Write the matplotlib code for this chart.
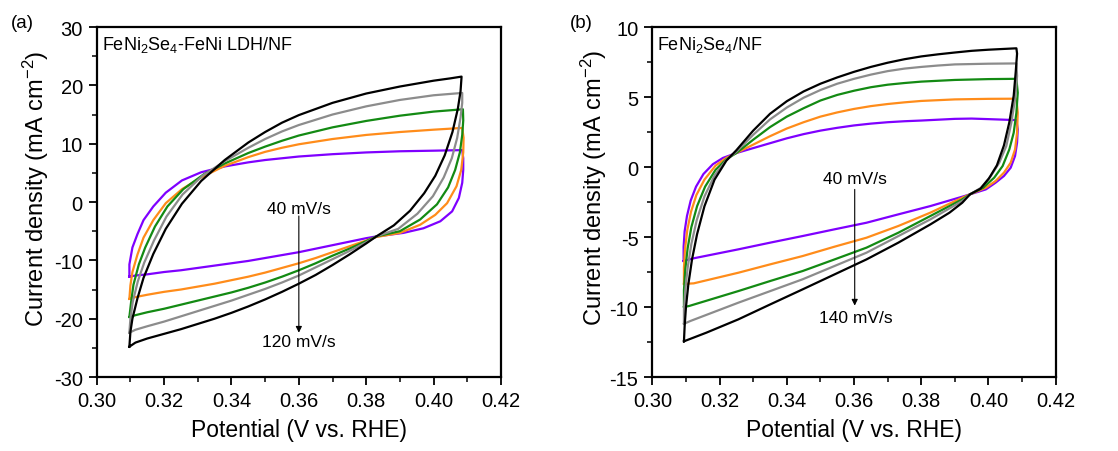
import matplotlib
matplotlib.use("Agg")
import matplotlib.pyplot as plt
from matplotlib.ticker import MultipleLocator, FormatStrFormatter

plt.rcParams['font.family'] = ['Liberation Sans', 'DejaVu Sans']
plt.rcParams['mathtext.fontset'] = 'custom'
plt.rcParams['mathtext.rm'] = 'Liberation Sans'
plt.rcParams['mathtext.it'] = 'Liberation Sans'
plt.rcParams['mathtext.default'] = 'regular'
plt.rcParams['axes.unicode_minus'] = False

# ---------------- Panel (a): FeNi2Se4-FeNi LDH/NF ----------------
a_40_x = [0.3097, 0.3097, 0.3106, 0.3121, 0.3139, 0.3168, 0.3205, 0.3253, 0.331, 0.338, 0.345, 0.350, 0.360, 0.370, 0.380, 0.390, 0.400, 0.4085,
          0.4088, 0.4088, 0.4085, 0.4075, 0.4055, 0.4020, 0.3970, 0.3910, 0.3830,
          0.380, 0.375, 0.370, 0.365, 0.360, 0.355, 0.350, 0.345, 0.340, 0.335, 0.330, 0.325, 0.320, 0.315, 0.3115, 0.3097]
a_40_y = [-12.8, -10.7, -7.8, -5.5, -3.1, -0.76, 1.6, 3.7, 5.1, 6.1, 6.8, 7.2, 7.8, 8.2, 8.5, 8.7, 8.8, 8.9,
          7.5, 5.5, 3.3, 0.7, -1.6, -3.3, -4.5, -5.3, -5.9,
          -6.2, -6.8, -7.4, -8.0, -8.6, -9.1, -9.6, -10.1, -10.5, -10.9, -11.3, -11.7, -12.0, -12.4, -12.6, -12.8]

a_60_x = [0.3097, 0.3100, 0.3106, 0.3121, 0.3139, 0.3168, 0.3205, 0.3253, 0.331, 0.338, 0.345, 0.350, 0.355, 0.360, 0.370, 0.380, 0.390, 0.400, 0.4085,
          0.4089, 0.4088, 0.4082, 0.4068, 0.4040, 0.4005, 0.3960, 0.3900, 0.3830,
          0.380, 0.375, 0.370, 0.365, 0.360, 0.355, 0.350, 0.345, 0.340, 0.335, 0.330, 0.325, 0.320, 0.315, 0.3115, 0.3097]
a_60_y = [-16.6, -14.3, -12.0, -9.0, -6.1, -3.1, -0.2, 2.2, 4.2, 6.2, 7.7, 8.6, 9.3, 9.9, 10.8, 11.5, 12.0, 12.4, 12.7,
          11.0, 8.5, 5.5, 2.7, -0.2, -2.2, -3.9, -5.3, -6.0,
          -6.6, -7.6, -8.6, -9.6, -10.5, -11.3, -12.1, -12.8, -13.4, -14.0, -14.5, -15.0, -15.4, -15.9, -16.3, -16.6]

a_80_x = [0.3097, 0.3102, 0.3109, 0.3125, 0.3144, 0.3173, 0.321, 0.3257, 0.3319, 0.338, 0.345, 0.350, 0.355, 0.360, 0.370, 0.380, 0.390, 0.400, 0.4087,
          0.4088, 0.4085, 0.4078, 0.4064, 0.4043, 0.4010, 0.3960, 0.3900, 0.3830,
          0.380, 0.375, 0.370, 0.365, 0.360, 0.355, 0.350, 0.345, 0.340, 0.335, 0.330, 0.325, 0.320, 0.315, 0.3115, 0.3097]
a_80_y = [-19.7, -17.2, -14.2, -10.7, -7.8, -4.2, -0.75, 2.2, 4.8, 6.6, 8.4, 9.5, 10.5, 11.4, 12.8, 13.9, 14.8, 15.5, 15.9,
          14.0, 11.5, 8.5, 5.5, 2.5, -0.4, -3.0, -5.0, -5.9,
          -6.7, -8.0, -9.2, -10.5, -11.7, -12.8, -13.8, -14.7, -15.5, -16.2, -16.9, -17.6, -18.3, -18.9, -19.4, -19.7]

a_100_x = [0.3097, 0.3100, 0.3107, 0.3122, 0.3141, 0.317, 0.3207, 0.3255, 0.3314, 0.338, 0.345, 0.350, 0.355, 0.360, 0.370, 0.380, 0.390, 0.400, 0.4085,
           0.4085, 0.4080, 0.4070, 0.4054, 0.4030, 0.3998, 0.3952, 0.3895, 0.3830,
           0.380, 0.375, 0.370, 0.365, 0.360, 0.355, 0.350, 0.345, 0.340, 0.335, 0.330, 0.325, 0.320, 0.315, 0.3115, 0.3097]
a_100_y = [-22.4, -20.0, -17.1, -13.6, -10.4, -6.6, -2.5, 1.3, 4.5, 7.0, 9.3, 10.8, 12.1, 13.2, 15.0, 16.4, 17.5, 18.3, 18.7,
           17.0, 14.5, 11.0, 7.5, 4.2, 1.0, -2.0, -4.6, -5.9,
           -6.9, -8.4, -9.8, -11.2, -12.6, -13.8, -14.9, -15.9, -16.9, -17.8, -18.7, -19.6, -20.5, -21.3, -21.9, -22.4]

a_120_x = [0.3097, 0.3100, 0.3106, 0.3121, 0.3139, 0.3168, 0.3205, 0.3253, 0.331, 0.338, 0.345, 0.350, 0.355, 0.360, 0.370, 0.380, 0.390, 0.400, 0.405, 0.4083,
           0.4080, 0.4072, 0.4056, 0.4033, 0.4005, 0.3972, 0.3930, 0.3882, 0.3830,
           0.380, 0.375, 0.370, 0.365, 0.360, 0.355, 0.350, 0.345, 0.340, 0.335, 0.330, 0.325, 0.320, 0.315, 0.3115, 0.3097]
a_120_y = [-24.8, -22.3, -20.0, -16.5, -13.0, -8.9, -4.6, -0.3, 3.6, 7.2, 10.2, 12.0, 13.6, 14.9, 17.0, 18.6, 19.8, 20.8, 21.2, 21.5,
           19.0, 16.0, 12.0, 8.0, 4.5, 1.5, -1.5, -4.0, -5.9,
           -7.1, -9.0, -10.8, -12.5, -14.0, -15.4, -16.7, -17.9, -19.0, -20.0, -20.9, -21.8, -22.6, -23.4, -24.1, -24.8]

# ---------------- Panel (b): FeNi2Se4/NF ----------------
b_40_x = [0.3093, 0.3093, 0.3096, 0.3103, 0.3114, 0.3130, 0.3152, 0.3180, 0.321, 0.325, 0.330, 0.335, 0.340, 0.345, 0.350, 0.355, 0.360, 0.365, 0.370, 0.375, 0.380, 0.385, 0.390, 0.395, 0.400, 0.4083,
          0.4087, 0.4085, 0.4079, 0.4066, 0.4046, 0.4021, 0.3992, 0.3945,
          0.3922, 0.3827, 0.3732, 0.3637, 0.3542, 0.3447, 0.3351, 0.3256, 0.3123, 0.3093]
b_40_y = [-6.71, -5.7, -4.6, -3.5, -2.4, -1.4, -0.5, 0.2, 0.65, 1.0, 1.35, 1.7, 2.05, 2.35, 2.6, 2.8, 2.97, 3.1, 3.2, 3.27, 3.32, 3.38, 3.44, 3.46, 3.42, 3.35,
          2.69, 1.74, 0.79, -0.05, -0.64, -1.12, -1.6, -1.95,
          -2.12, -2.79, -3.38, -3.98, -4.45, -4.93, -5.4, -5.88, -6.52, -6.71]

b_65_x = [0.3094, 0.3094, 0.3097, 0.3104, 0.3115, 0.3131, 0.3155, 0.3188, 0.322, 0.325, 0.330, 0.335, 0.340, 0.345, 0.350, 0.355, 0.360, 0.365, 0.370, 0.375, 0.380, 0.390, 0.400, 0.4083,
          0.4087, 0.4085, 0.4079, 0.4066, 0.4046, 0.4021, 0.3992, 0.3945,
          0.3922, 0.3827, 0.3732, 0.3637, 0.3542, 0.3447, 0.3351, 0.3256, 0.3123, 0.3094]
b_65_y = [-8.35, -7.2, -5.9, -4.5, -3.2, -2.0, -0.9, 0.1, 0.65, 1.0, 1.6, 2.2, 2.75, 3.2, 3.6, 3.9, 4.15, 4.35, 4.5, 4.62, 4.72, 4.83, 4.87, 4.88,
          3.88, 2.45, 1.26, 0.31, -0.4, -1.0, -1.48, -1.95,
          -2.19, -3.26, -4.21, -5.05, -5.69, -6.36, -6.95, -7.55, -8.31, -8.35]

b_90_x = [0.3094, 0.3094, 0.3098, 0.3105, 0.3116, 0.3133, 0.3157, 0.3188, 0.322, 0.325, 0.330, 0.335, 0.340, 0.345, 0.350, 0.355, 0.360, 0.365, 0.370, 0.375, 0.380, 0.390, 0.400, 0.4083,
          0.4087, 0.4083, 0.4075, 0.4062, 0.4042, 0.4017, 0.3984, 0.3945,
          0.3922, 0.3827, 0.3732, 0.3637, 0.3542, 0.3447, 0.3351, 0.3256, 0.3109, 0.3094]
b_90_y = [-10.0, -8.8, -7.3, -5.8, -4.3, -2.8, -1.4, -0.2, 0.55, 1.0, 1.95, 2.85, 3.6, 4.2, 4.75, 5.15, 5.45, 5.7, 5.88, 6.0, 6.1, 6.22, 6.28, 6.3,
          5.31, 3.88, 2.45, 1.26, 0.07, -0.76, -1.48, -1.95,
          -2.31, -3.5, -4.69, -5.76, -6.6, -7.43, -8.14, -8.86, -9.93, -10.0]

b_115_x = [0.3094, 0.3094, 0.3098, 0.3105, 0.3116, 0.3132, 0.3155, 0.3185, 0.322, 0.325, 0.330, 0.335, 0.340, 0.345, 0.350, 0.355, 0.360, 0.365, 0.370, 0.375, 0.380, 0.385, 0.390, 0.400, 0.4083,
           0.4085, 0.4079, 0.4068, 0.4053, 0.4032, 0.4007, 0.3978, 0.3945,
           0.3922, 0.3827, 0.3732, 0.3637, 0.3542, 0.3447, 0.3351, 0.3256, 0.3113, 0.3094]
b_115_y = [-11.2, -10.2, -8.8, -7.2, -5.5, -3.8, -2.1, -0.6, 0.5, 1.1, 2.3, 3.4, 4.25, 4.95, 5.5, 5.95, 6.3, 6.6, 6.85, 7.03, 7.15, 7.25, 7.33, 7.38, 7.4,
           6.5, 4.83, 3.17, 1.5, 0.31, -0.64, -1.48, -1.95,
           -2.43, -3.74, -4.93, -6.12, -7.07, -8.02, -8.86, -9.69, -11.0, -11.2]

b_140_x = [0.3094, 0.3096, 0.3100, 0.3107, 0.3118, 0.3133, 0.3155, 0.3185, 0.322, 0.325, 0.330, 0.335, 0.340, 0.345, 0.350, 0.355, 0.360, 0.365, 0.370, 0.375, 0.380, 0.385, 0.390, 0.395, 0.400, 0.4083,
           0.4085, 0.4081, 0.4075, 0.4062, 0.4046, 0.4025, 0.4001, 0.3976, 0.3945,
           0.3922, 0.3884, 0.3827, 0.3732, 0.3637, 0.3542, 0.3447, 0.3351, 0.3256, 0.3161, 0.3094]
b_140_y = [-12.45, -11.4, -10.0, -8.4, -6.6, -4.8, -2.8, -0.9, 0.45, 1.2, 2.6, 3.8, 4.7, 5.4, 5.95, 6.4, 6.8, 7.15, 7.45, 7.7, 7.9, 8.05, 8.18, 8.3, 8.38, 8.48,
           8.1, 6.8, 5.1, 3.2, 1.55, 0.12, -0.83, -1.55, -1.95,
           -2.55, -3.26, -4.1, -5.4, -6.6, -7.67, -8.74, -9.81, -10.88, -11.83, -12.45]

colors = ['#7f00ff', '#ff8c1a', '#138a13', '#8c8c8c', '#000000']

fig = plt.figure(figsize=(11.18, 4.52), dpi=100)
ax_a = fig.add_axes([0.0865, 0.1637, 0.3616, 0.7743])
ax_b = fig.add_axes([0.5835, 0.1637, 0.3608, 0.7743])

a_curves = [(a_40_x, a_40_y), (a_60_x, a_60_y), (a_80_x, a_80_y), (a_100_x, a_100_y), (a_120_x, a_120_y)]
b_curves = [(b_40_x, b_40_y), (b_65_x, b_65_y), (b_90_x, b_90_y), (b_115_x, b_115_y), (b_140_x, b_140_y)]

for (xs, ys), c in zip(a_curves, colors):
    ax_a.plot(xs, ys, color=c, lw=1.6, solid_joinstyle='round')
for (xs, ys), c in zip(b_curves, colors):
    ax_b.plot(xs, ys, color=c, lw=1.6, solid_joinstyle='round')


def style(ax, ylim, ymaj, ymin, ylab_x, ylab_y):
    ax.set_xlim(0.30, 0.42)
    ax.set_ylim(*ylim)
    ax.xaxis.set_major_locator(MultipleLocator(0.02))
    ax.xaxis.set_minor_locator(MultipleLocator(0.01))
    ax.yaxis.set_major_locator(MultipleLocator(ymaj))
    ax.yaxis.set_minor_locator(MultipleLocator(ymin))
    ax.xaxis.set_major_formatter(FormatStrFormatter('%.2f'))
    ax.tick_params(which='major', direction='out', length=6, width=1.3, labelsize=14.5,
                   top=False, right=False, pad=4)
    ax.tick_params(which='minor', direction='out', length=3.5, width=1.1, top=False, right=False)
    for s in ax.spines.values():
        s.set_linewidth(1.6)
    ax.set_xlabel('Potential (V vs. RHE)', fontsize=16.5, labelpad=6)
    ax.set_ylabel('Current density (mA cm$^{-2}$)', fontsize=17)
    ax.yaxis.set_label_coords(ylab_x, ylab_y)


style(ax_a, (-30, 30), 10, 5, -0.113, 0.540)
style(ax_b, (-15, 10), 5, 2.5, -0.107, 0.543)

ax_a.text(0.013, 0.936, 'FeNi$_2$Se$_4$-FeNi LDH/NF', transform=ax_a.transAxes,
          fontsize=13, va='baseline', ha='left')
ax_b.text(0.012, 0.936, 'FeNi$_2$Se$_4$/NF', transform=ax_b.transAxes,
          fontsize=13, va='baseline', ha='left')

# scan-rate arrows
ax_a.annotate('', xy=(0.36, -22.4), xytext=(0.36, -2.4),
              arrowprops=dict(arrowstyle='-|>', lw=0.8, color='black', mutation_scale=9, shrinkA=0, shrinkB=0))
ax_a.text(0.36, -1.1, '40 mV/s', fontsize=12.5, ha='center', va='center')
ax_a.text(0.36, -23.9, '120 mV/s', fontsize=12.5, ha='center', va='center')

ax_b.annotate('', xy=(0.3602, -9.9), xytext=(0.3602, -1.6),
              arrowprops=dict(arrowstyle='-|>', lw=0.8, color='black', mutation_scale=9, shrinkA=0, shrinkB=0))
ax_b.text(0.3604, -0.8, '40 mV/s', fontsize=12.5, ha='center', va='center')
ax_b.text(0.3606, -10.76, '140 mV/s', fontsize=12.5, ha='center', va='center')

fig.text(22 / 1118, 1 - 23 / 452, '(a)', fontsize=13.5, ha='center', va='center')
fig.text(581 / 1118, 1 - 23 / 452, '(b)', fontsize=13.5, ha='center', va='center')

fig.savefig('out.png', dpi=100)
